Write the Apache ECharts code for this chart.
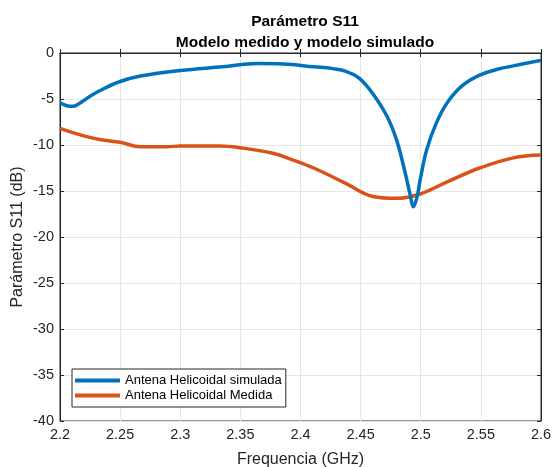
<!DOCTYPE html>
<html>
<head>
<meta charset="utf-8">
<script src="https://cdn.jsdelivr.net/npm/echarts@6/dist/echarts.min.js"></script>
<style>
  html, body { margin: 0; padding: 0; background: #fff; }
  #main { width: 555px; height: 467px; }
</style>
</head>
<body>
<div id="main"></div>
<script>
// datos
let freqSim = [2.2, 2.205, 2.211, 2.217, 2.225, 2.233, 2.25, 2.267, 2.3, 2.335, 2.364, 2.386, 2.411, 2.427, 2.438, 2.449, 2.46, 2.472, 2.48, 2.487, 2.491, 2.494, 2.497, 2.4995, 2.505, 2.513, 2.522, 2.535, 2.549, 2.563, 2.577, 2.6];
let s11Sim = [-5.4, -5.7, -5.8, -5.4, -4.7, -4.1, -3.1, -2.5, -1.9, -1.5, -1.15, -1.2, -1.5, -1.7, -2.0, -2.75, -4.4, -6.9, -9.5, -13.0, -15.3, -16.7, -15.6, -13.8, -10.5, -7.6, -5.4, -3.5, -2.4, -1.8, -1.4, -0.8];
let freqMed = [2.2, 2.217, 2.233, 2.25, 2.267, 2.289, 2.3, 2.333, 2.35, 2.377, 2.391, 2.411, 2.438, 2.46, 2.48, 2.5, 2.522, 2.549, 2.577, 2.6];
let s11Med = [-8.2, -8.9, -9.4, -9.7, -10.2, -10.2, -10.1, -10.1, -10.3, -10.9, -11.5, -12.5, -14.2, -15.6, -15.8, -15.3, -14.0, -12.5, -11.4, -11.1];
let seriesNames = ['Antena Helicoidal simulada', 'Antena Helicoidal Medida'];

function zip(xs, ys) {
  return xs.map(function (x, i) { return [x, ys[i]]; });
}

let myChart = echarts.init(document.getElementById('main'));
let axisCol = '#262626';
let fam = 'Liberation Sans, Arial, sans-serif';

let option = {
  backgroundColor: '#fff',
  animation: false,
  title: {
    text: 'Parámetro S11\nModelo medido y modelo simulado',
    left: 300,
    textAlign: 'center',
    top: 6,
    textStyle: { fontFamily: fam, fontSize: 15.5, fontWeight: 'bold', color: '#000', lineHeight: 21 }
  },
  grid: {
    left: 60, right: 14, top: 53, bottom: 46,
    outerBoundsMode: 'none', containLabel: false,
    show: true, borderColor: axisCol, borderWidth: 1
  },
  legend: {
    orient: 'vertical',
    left: 72,
    top: 369,
    data: seriesNames,
    itemWidth: 45,
    itemHeight: 4,
    itemGap: 2,
    padding: [5, 4, 5, 3],
    backgroundColor: '#fff',
    borderColor: axisCol,
    borderWidth: 1,
    textStyle: { fontFamily: fam, fontSize: 13, color: '#000' },
    icon: 'rect'
  },
  xAxis: [
    {
      type: 'value',
      min: 2.2,
      max: 2.6,
      interval: 0.05,
      name: 'Frequencia (GHz)',
      nameLocation: 'middle',
      nameGap: 31,
      nameTextStyle: { fontFamily: fam, fontSize: 16, color: axisCol },
      axisLine: { lineStyle: { color: axisCol } },
      axisTick: { inside: true, length: 4, lineStyle: { color: axisCol } },
      axisLabel: { fontFamily: fam, fontSize: 14.5, color: axisCol, margin: 6 },
      splitLine: { show: true, lineStyle: { color: '#e6e6e6' } }
    },
    {
      type: 'value',
      position: 'top',
      min: 2.2,
      max: 2.6,
      interval: 0.05,
      axisLine: { show: true, lineStyle: { color: axisCol } },
      axisTick: { inside: true, length: 4, lineStyle: { color: axisCol } },
      axisLabel: { show: false },
      splitLine: { show: false }
    }
  ],
  yAxis: [
    {
      type: 'value',
      min: -40,
      max: 0,
      interval: 5,
      name: 'Parámetro S11 (dB)',
      nameLocation: 'middle',
      nameGap: 34,
      nameMoveOverlap: false,
      nameTextStyle: { fontFamily: fam, fontSize: 16, color: axisCol },
      axisLine: { show: true, lineStyle: { color: axisCol } },
      axisTick: { show: true, inside: true, length: 4, lineStyle: { color: axisCol } },
      axisLabel: { fontFamily: fam, fontSize: 14.5, color: axisCol, margin: 6 },
      splitLine: { show: true, lineStyle: { color: '#e6e6e6' } }
    },
    {
      type: 'value',
      position: 'right',
      min: -40,
      max: 0,
      interval: 5,
      axisLine: { show: true, lineStyle: { color: axisCol } },
      axisTick: { show: true, inside: true, length: 4, lineStyle: { color: axisCol } },
      axisLabel: { show: false },
      splitLine: { show: false }
    }
  ],
  series: [
    {
      name: seriesNames[0],
      type: 'line',
      data: zip(freqSim, s11Sim),
      smooth: 0.4,
      showSymbol: false,
      color: '#0072BD',
      lineStyle: { width: 3.5, color: '#0072BD' },
      z: 3
    },
    {
      name: seriesNames[1],
      type: 'line',
      data: zip(freqMed, s11Med),
      smooth: 0.4,
      showSymbol: false,
      color: '#D95319',
      lineStyle: { width: 3.5, color: '#D95319' },
      z: 2
    }
  ]
};
myChart.setOption(option);
</script>
</body>
</html>
